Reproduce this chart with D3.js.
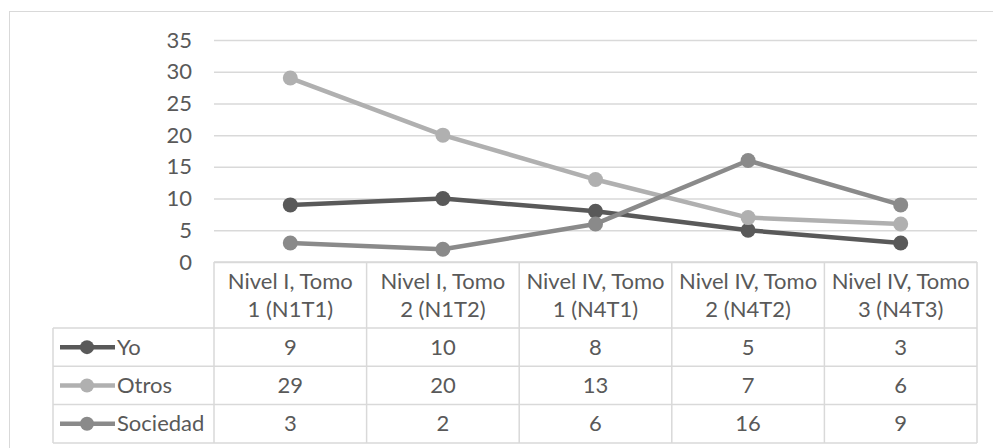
<!DOCTYPE html>
<html>
<head>
<meta charset="utf-8">
<script src="https://cdn.jsdelivr.net/npm/d3@7"></script>
<style>
  body { margin: 0; background: #fff; }
  text { font-family: Lato, "Open Sans", sans-serif; fill: #595959; }
</style>
</head>
<body>
<div id="root"></div>
<script>
const categories = [
  ["Nivel I, Tomo", "1 (N1T1)"],
  ["Nivel I, Tomo", "2 (N1T2)"],
  ["Nivel IV, Tomo", "1 (N4T1)"],
  ["Nivel IV, Tomo", "2 (N4T2)"],
  ["Nivel IV, Tomo", "3 (N4T3)"]
];
const seriesNames = ["Yo", "Otros", "Sociedad"];
const yoValues = [9, 10, 8, 5, 3];
const otrosValues = [29, 20, 13, 7, 6];
const sociedadValues = [3, 2, 6, 16, 9];
const yTicks = [0, 5, 10, 15, 20, 25, 30, 35];

const colors = ["#595959", "#b0b0b0", "#8a8a8a"];
const series = [yoValues, otrosValues, sociedadValues].map((v, i) => ({
  name: seriesNames[i], values: v, color: colors[i]
}));

const w = 993;
const h = 448;
const plotLeft = 214, plotRight = 977, plotTop = 40, base = 262;
const headH = 66, rowH = 38.3, legendLeft = 53;
const fontSize = 22;

const svg = d3.select("#root")
  .append("svg")
  .attr("width", w)
  .attr("height", h);

// chart area border
svg.append("rect")
  .attr("x", 9.5)
  .attr("y", 11.5)
  .attr("width", 1000)
  .attr("height", 500)
  .attr("fill", "none")
  .attr("stroke", "#d9d9d9");

const xScale = d3.scaleBand()
  .domain(d3.range(categories.length))
  .range([plotLeft, plotRight]);

const yScale = d3.scaleLinear()
  .domain([0, 35])
  .range([base, plotTop]);

// gridlines
svg.append("g")
  .attr("class", "grid")
  .attr("transform", `translate(${plotLeft}, 0)`)
  .call(d3.axisLeft(yScale).tickValues(yTicks).tickSize(-(plotRight - plotLeft)).tickFormat(""))
  .call(g => g.select(".domain").remove())
  .call(g => g.selectAll("line").attr("stroke", "#d9d9d9").attr("stroke-width", 1.5));

// y axis labels
svg.append("g")
  .attr("id", "y-axis")
  .attr("transform", `translate(${plotLeft}, 0)`)
  .call(d3.axisLeft(yScale).tickValues(yTicks).tickSize(0).tickPadding(22))
  .call(g => g.select(".domain").remove())
  .call(g => g.selectAll("text")
    .style("font-family", "Lato, sans-serif")
    .attr("font-size", fontSize)
    .attr("fill", "#595959"));

// data table
const table = svg.append("g").attr("id", "table");
const rowTops = seriesNames.map((d, i) => base + headH + rowH * i);
const border = "#d9d9d9";
const tableBottom = base + headH + rowH * seriesNames.length;

// horizontal rules
table.append("line")
  .attr("x1", plotLeft).attr("x2", plotRight)
  .attr("y1", base).attr("y2", base)
  .attr("stroke", border).attr("stroke-width", 1.5);
table.selectAll(".hrule")
  .data(rowTops.concat([tableBottom]))
  .enter()
  .append("line")
  .attr("class", "hrule")
  .attr("x1", legendLeft).attr("x2", plotRight)
  .attr("y1", d => d).attr("y2", d => d)
  .attr("stroke", border).attr("stroke-width", 1.5);

// vertical rules
table.selectAll(".vrule")
  .data(d3.range(categories.length + 1))
  .enter()
  .append("line")
  .attr("class", "vrule")
  .attr("x1", i => i < categories.length ? xScale(i) : plotRight)
  .attr("x2", i => i < categories.length ? xScale(i) : plotRight)
  .attr("y1", base).attr("y2", tableBottom)
  .attr("stroke", border).attr("stroke-width", 1.5);
table.append("line")
  .attr("x1", legendLeft).attr("x2", legendLeft)
  .attr("y1", base + headH).attr("y2", tableBottom)
  .attr("stroke", border).attr("stroke-width", 1.5);

// header labels
const head = table.selectAll(".cat")
  .data(categories)
  .enter()
  .append("text")
  .attr("class", "cat")
  .attr("text-anchor", "middle")
  .attr("font-size", fontSize);
head.append("tspan")
  .attr("x", (d, i) => xScale(i) + xScale.bandwidth() / 2)
  .attr("y", base + 27)
  .text(d => d[0]);
head.append("tspan")
  .attr("x", (d, i) => xScale(i) + xScale.bandwidth() / 2)
  .attr("y", base + 55)
  .text(d => d[1]);

// value cells and legend keys
series.forEach((s, si) => {
  table.selectAll(".val" + si)
    .data(s.values)
    .enter()
    .append("text")
    .attr("class", "val" + si)
    .attr("text-anchor", "middle")
    .attr("font-size", fontSize)
    .attr("x", (d, i) => xScale(i) + xScale.bandwidth() / 2)
    .attr("y", rowTops[si] + rowH / 2 + 7.5)
    .text(d => d);

  const ky = rowTops[si] + rowH / 2;
  table.append("line")
    .attr("x1", 60).attr("x2", 115)
    .attr("y1", ky).attr("y2", ky)
    .attr("stroke", s.color).attr("stroke-width", 4.5);
  table.append("circle")
    .attr("cx", 87).attr("cy", ky).attr("r", 7)
    .attr("fill", s.color);
  table.append("text")
    .attr("x", 117)
    .attr("y", ky + 7.5)
    .attr("font-size", fontSize)
    .text(s.name);
});

// lines
const line = d3.line()
  .x((d, i) => xScale(i) + xScale.bandwidth() / 2)
  .y(d => yScale(d));

const lines = svg.append("g").attr("id", "lines");
series.forEach(s => {
  lines.append("path")
    .datum(s.values)
    .attr("d", line)
    .attr("fill", "none")
    .attr("stroke", s.color)
    .attr("stroke-width", 4.5)
    .attr("stroke-linejoin", "round");
  lines.selectAll(null)
    .data(s.values)
    .enter()
    .append("circle")
    .attr("cx", (d, i) => xScale(i) + xScale.bandwidth() / 2)
    .attr("cy", d => yScale(d))
    .attr("r", 7.5)
    .attr("fill", s.color);
});
</script>
</body>
</html>
